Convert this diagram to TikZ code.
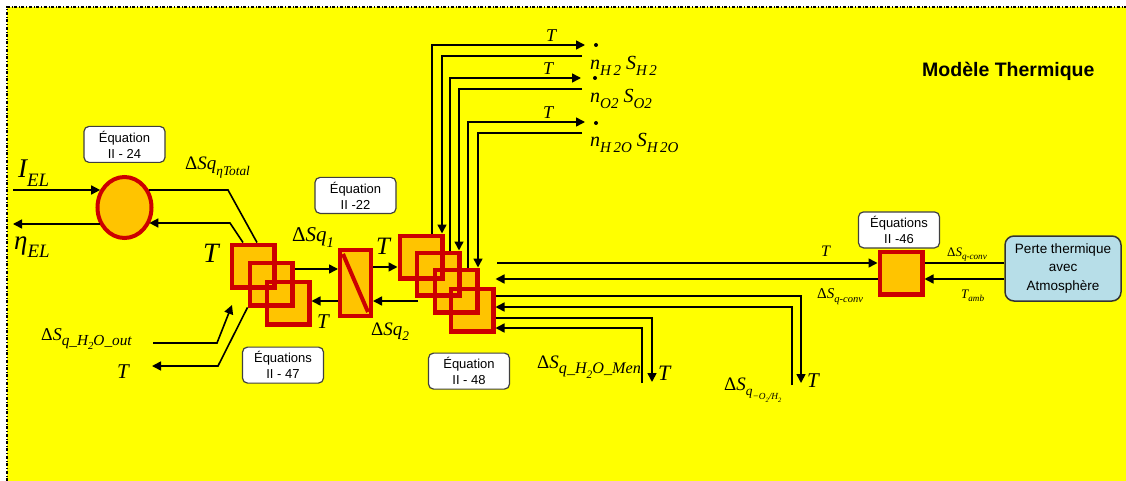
\documentclass[tikz,border=0pt]{standalone}
\usepackage{fontspec}
\setmainfont{Liberation Serif}
\setsansfont{Liberation Sans}
\usepackage{graphicx}
\usepackage{tikz}
\usetikzlibrary{arrows.meta, shapes.geometric, positioning}
\definecolor{bgyellow}{RGB}{255,255,0}
\definecolor{boxorange}{RGB}{255,196,0}
\definecolor{edgered}{RGB}{204,0,0}
\definecolor{lossblue}{RGB}{183,222,232}
\newcommand\fsz[1]{\fontsize{#1}{#1}\selectfont}
\newcommand\subx[2][.7]{\raisebox{-.3em}{\scalebox{#1}{#2}}}
\newcommand\dlt{{\upshape Δ}}

\begin{document}
\begin{tikzpicture}[
          x=1pt, y=-1pt,
          ln/.style={line width=1.6pt},
          arr/.style={ln, -{Triangle[length=9pt, width=9pt]}},
          sq/.style={fill=boxorange, minimum size=42.5pt, inner sep=0pt, outer sep=2.25pt},
          sqline/.style={draw=edgered, line width=4.5pt},
          eqn/.style={draw=black!75, fill=white, rounded corners=5pt, line width=1.2pt,
                      minimum width=81pt, minimum height=36pt, inner sep=0pt, align=center,
                      font=\sffamily\fontsize{13}{16}\selectfont},
          lab/.style={font=\itshape\fsz{#1}, inner sep=0pt, anchor=base west},
          ndot/.style={circle, fill, minimum size=4pt, inner sep=0pt},
        ]
        \useasboundingbox (0,0) rectangle (1126,481);
        \fill[bgyellow] (7,7) rectangle (1126,481);
        \draw[dash dot, line width=1.2pt] (7,481) -- (7,7) -- (1126,7);

        \node[font=\sffamily\bfseries\fsz{19.5}, inner sep=0pt, anchor=base west] (title) at (922,77) {Modèle Thermique};

        \node[ellipse, draw=edgered, fill=boxorange, line width=4pt, minimum width=54pt,
              minimum height=61pt, inner sep=0pt] (e) at (124.5,207.5) {};
        \node[draw=edgered, fill=boxorange, line width=4pt, minimum width=31pt,
              minimum height=66pt, inner sep=0pt] (b) at (355.5,283) {};
        \draw[edgered, line width=4pt] ([shift={(5pt,-6pt)}]b.north west) -- ([shift={(-5pt,6pt)}]b.south east);

        \node[sq] (s1) at (253,266) {};
        \node[sq] (s2) at (271,284) {};
        \node[sq] (s3) at (288,303) {};
        \node[sq] (a1) at (421,257) {};
        \node[sq] (a2) at (438,274) {};
        \node[sq] (a3) at (456,291) {};
        \node[sq] (a4) at (472,310) {};
        \node[sq] (r) at (901,273) {};
        \foreach \n in {s1,s2,s3,a1,a2,a3,a4,r}
          \draw[sqline] ([shift={(2.25pt,2.25pt)}]\n.south west) rectangle ([shift={(-2.25pt,-2.25pt)}]\n.north east);

        \node[draw=black!80, fill=lossblue, rounded corners=9pt, line width=1.5pt, minimum width=116pt,
              minimum height=65pt, align=center, font=\sffamily\fontsize{13.5}{18.5}\selectfont]
              (p) at (1063,268.5) {Perte thermique\\avec\\Atmosphère};

        \node[eqn, above=12pt of e] (q24) {Équation\\II - 24};
        \node[eqn, above=34pt of b] (q22) {Équation\\II -22};
        \node[eqn, below=20pt of s3, xshift=-5pt] (q47) {Équations\\II - 47};
        \node[eqn, below=19pt of a4, xshift=-3pt] (q48) {Équation\\II - 48};
        \node[eqn, above=1pt of r, xshift=-2pt] (q46) {Équations\\II -46};

        \coordinate (iel) at (13,190);
        \coordinate (eta) at (13,224);
        \coordinate (k1) at (228,190);
        \coordinate (k2) at (230,223);
        \coordinate (k3) at (153,343);
        \coordinate (k4) at (217,343);
        \coordinate (hin) at (232,305);
        \coordinate (k5) at (218,366);
        \coordinate (tout) at (152,366);
        \coordinate (k6) at (418,301);
        \coordinate (t1) at (585,45);
        \coordinate (n1) at (582,56);
        \coordinate (t2) at (581,78);
        \coordinate (n2) at (582,89);
        \coordinate (t3) at (585,122);
        \coordinate (n3) at (582,133);
        \coordinate (k7) at (497,263);
        \coordinate (w1) at (801,383);
        \coordinate (w2) at (792,385);
        \coordinate (w3) at (652,382);
        \coordinate (w4) at (642,383);

        \draw[arr] (iel) -- (iel -| e.144);
        \draw[arr] (eta -| e.214) -- (eta);
        \draw[ln]  (k1 -| e.36) -- (k1) -- ([xshift=4pt]s1.north);
        \draw[arr] ([xshift=-10pt]s1.north) -- (k2) -- (k2 -| e.326);
        \draw[arr] (k3) -- (k4) -- (hin);
        \draw[arr] (s2.south west) -- (k5) -- (tout);

        \draw[arr] (s2.east |- 0,269) -- (b.west |- 0,269);
        \draw[arr] (b.west |- 0,301) -- (s3.east |- 0,301);
        \draw[arr] (b.east |- 0,267) -- (a1.west |- 0,267);
        \draw[arr] (k6) -- (k6 -| b.east);

        \draw[arr] ([xshift=11pt]a1.north) |- (t1);
        \draw[arr] (n1) -| ([xshift=21pt]a1.north);
        \draw[arr] ([xshift=12pt]a2.north) |- (t2);
        \draw[arr] (n2) -| ([xshift=21pt]a2.north);
        \draw[arr] ([xshift=12pt]a3.north) |- (t3);
        \draw[arr] (n3) -| ([xshift=22pt]a3.north);

        \draw[arr] (k7) -- (k7 -| r.west);
        \draw[arr] (r.west |- 0,279) -- (a4.east |- 0,279);
        \draw[arr] (a4.east |- 0,296) -| (w1);
        \draw[arr] (w2) |- (a4.east |- 0,307);
        \draw[arr] (a4.east |- 0,318) -| (w3);
        \draw[arr] (w4) |- (a4.east |- 0,328);
        \draw[ln]  (p.west |- 0,263) -- (r.east |- 0,263);
        \draw[arr] (p.west |- 0,279) -- (r.east |- 0,279);

        \node[lab=27] (lIel) at (18,178) {I\subx{EL}};
        \node[lab=27] (lEta) at (14,249) {η\subx{EL}};
        \node[lab=19] (lTot) at (185,170) {\dlt Sq\subx{ηTotal}};
        \node[lab=28] (lT0) at (203,262) {T};
        \node[lab=18] (lOut) at (41,340) {\dlt S\subx[.85]{q\_H\subx{2}O\_out}};
        \node[lab=21] (lT1) at (117,378) {T};
        \node[lab=21] (lQ1) at (292,241) {\dlt Sq\subx{1}};
        \node[lab=21] (lT2) at (317,328) {T};
        \node[lab=25] (lT3) at (376,254) {T};
        \node[lab=19] (lQ2) at (371,335) {\dlt Sq\subx{2}};
        \node[lab=18] (lT4) at (546,42) {T};
        \node[lab=18] (lT5) at (543,75) {T};
        \node[lab=18] (lT6) at (543,119) {T};
        \node[ndot] (d1) at (596,45) {};
        \node[ndot] (d2) at (595,78) {};
        \node[ndot] (d3) at (596,123) {};
        \node[lab=20] (lN1) at (590,70) {n\subx[.75]{H\,2} S\subx[.75]{H\,2}};
        \node[lab=20] (lN2) at (590,103) {n\subx[.75]{O2} S\subx[.75]{O2}};
        \node[lab=20] (lN3) at (590,147) {n\subx[.75]{H\,2O} S\subx[.75]{H\,2O}};
        \node[lab=16] (lT7) at (821,256) {T};
        \node[lab=15] (lConvL) at (817,298) {\dlt S\subx{q-conv}};
        \node[lab=21] (lT8) at (807,387) {T};
        \node[lab=19] (lO2H2) at (724,390) {\dlt S\subx{q\subx{−O\subx{2}/H\subx{2}}}};
        \node[lab=22] (lT9) at (658,380) {T};
        \node[lab=19] (lMen) at (537,368) {\dlt S\subx[.85]{q\_H\subx{2}O\_Men}};
        \node[lab=13] (lConvR) at (947,256) {\dlt S\subx{q-conv}};
        \node[lab=13] (lAmb) at (961,298) {T\subx{amb}};
      \end{tikzpicture}
\end{document}
